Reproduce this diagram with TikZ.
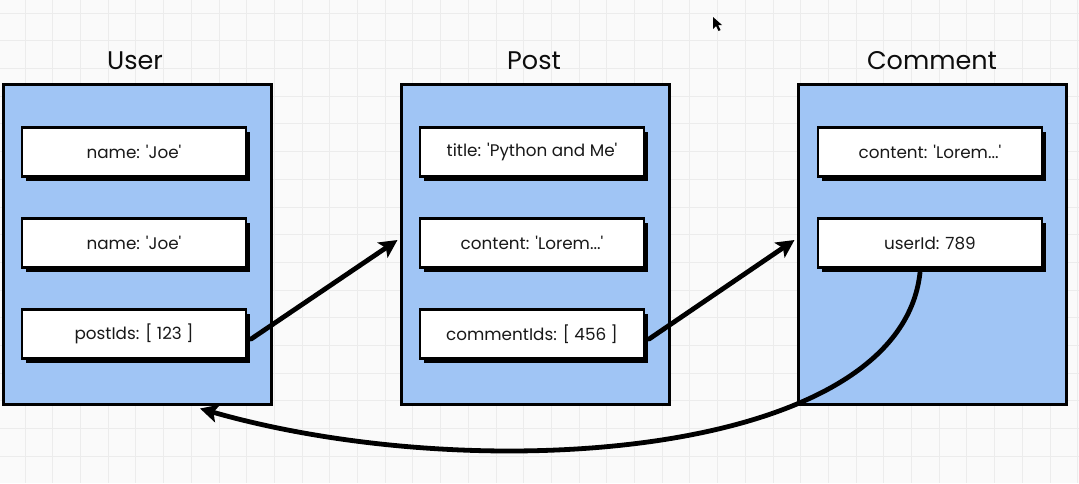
\documentclass[tikz,border=0pt]{standalone}
\usepackage{fontspec}
\setmainfont{Poppins}[Ligatures=TeXOff]
\usetikzlibrary{shadows,arrows.meta,calc}
\definecolor{bgc}{HTML}{FAFAFA}
\definecolor{gridc}{HTML}{ECECEC}
\definecolor{boxblue}{RGB}{160,197,245}
\tikzset{
  entity/.style={draw=black, line width=3pt, fill=boxblue, minimum width=268pt, minimum height=320pt, inner sep=0pt},
  field/.style={draw=black, line width=2.2pt, fill=white, minimum width=224pt, minimum height=49pt, inner sep=0pt,
    font=\fontsize{16.8}{18}\selectfont, text=black!90,
    drop shadow={shadow xshift=4pt, shadow yshift=-4pt, fill=black, opacity=1}},
  etitle/.style={font=\fontsize{25.5}{30}\selectfont, text=black!95, inner sep=0pt},
  link/.style={line width=4.8pt, -{Stealth[length=18pt,width=18pt,inset=4pt]}, line cap=round}
}
\begin{document}
\begin{tikzpicture}[x=1pt,y=-1pt]
\useasboundingbox (0,0) rectangle (1079,483);
\fill[bgc] (0,0) rectangle (1079,483);
\foreach \k in {0,...,38} { \draw[gridc, line width=0.8pt] ({25+27.7*\k},0) -- ({25+27.7*\k},483); }
\foreach \k in {0,...,17} { \draw[gridc, line width=0.8pt] (0,{13+27.7*\k}) -- (1079,{13+27.7*\k}); }

% titles
\node[etitle] (tuser) at (135,61) {User};
\node[etitle] (tpost) at (534,61) {Post};
\node[etitle] (tcomm) at (932,61) {Comment};

% entity boxes
\node[entity] (user) at (137,244) {};
\node[entity] (post) at (535,244) {};
\node[entity] (comm) at (932,244) {};

% fields
\node[field] (uname1) at (134,152) {name: 'Joe'};
\node[field] (uname2) at (134,243) {name: 'Joe'};
\node[field] (upost) at (134,334) {postIds: [ 123 ]};

\node[field] (ptitle) at (532,152) {title: 'Python and Me'};
\node[field] (pcont) at (532,243) {content: 'Lorem...'};
\node[field] (pcomm) at (532,334) {commentIds: [ 456 ]};

\node[field] (ccont) at (930,152) {content: 'Lorem...'};
\node[field] (cuser) at (930,243) {userId: 789};

% connectors
\coordinate (a1s) at ($(upost.east)+(4,5)$);
\coordinate (a1e) at ($(post.west |- pcont.west)+(-2,-3)$);
\draw[link] (a1s) -- (a1e);
\coordinate (a2s) at ($(pcomm.east)+(4,5)$);
\coordinate (a2e) at ($(comm.west |- cuser.west)+(-2,-3)$);
\draw[link] (a2s) -- (a2e);
\coordinate (a3s) at ($(cuser.south)+(-10,4)$);
\coordinate (a3e) at ($(user.south)+(63,3)$);
\draw[link] (a3s) .. controls +(-20,185) and +(280,80) .. (a3e);

% mouse cursor
\fill[black] (713,17) -- (713,29) -- (716,26) -- (718.5,31) -- (720.5,30) -- (718,25) -- (722,25) -- cycle;
\end{tikzpicture}
\end{document}
